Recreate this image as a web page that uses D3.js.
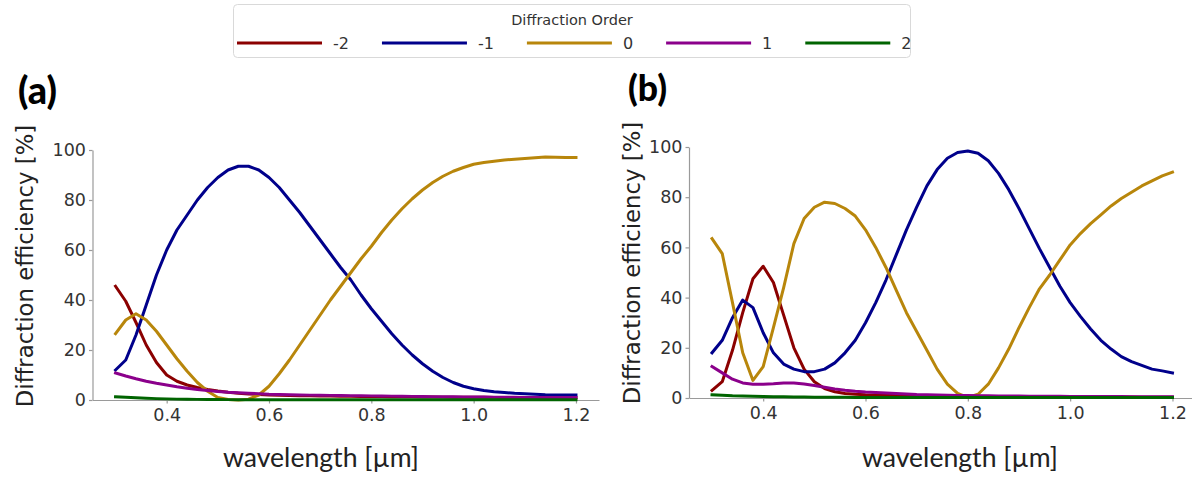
<!DOCTYPE html>
<html>
<head>
<meta charset="utf-8">
<script src="https://cdn.jsdelivr.net/npm/d3@7"></script>
<style>
    html, body { margin: 0; padding: 0; background: #fff; }
    svg { display: block; }
    .axis path, .axis line { stroke: #9a9a9a; stroke-width: 1.2; }
    .axis text { font-family: "DejaVu Sans"; font-size: 17.5px; fill: #333; }
    .y-label { font-family: "DejaVu Sans"; font-size: 22.8px; fill: #222; }
    .x-label { font-family: Lato, "Open Sans"; font-size: 23px; fill: #222; }
    .tag { font-family: Lato, "Open Sans"; font-weight: 900; font-size: 32px; fill: #000; }
    .leg-title { font-family: "DejaVu Sans"; font-size: 14.5px; fill: #333; }
    .leg-text { font-family: "DejaVu Sans"; font-size: 16px; fill: #333; }
</style>
</head>
<body>
<svg id="chart" width="1192" height="477"></svg>
<script>
// wavelength [um]
var wavelength = [0.30, 0.32, 0.34, 0.36, 0.38, 0.40, 0.42, 0.44, 0.46, 0.48,
    0.50, 0.52, 0.54, 0.56, 0.58, 0.60, 0.62, 0.64, 0.66, 0.68,
    0.70, 0.72, 0.74, 0.76, 0.78, 0.80, 0.82, 0.84, 0.86, 0.88,
    0.90, 0.92, 0.94, 0.96, 0.98, 1.00, 1.02, 1.04, 1.06, 1.08,
    1.10, 1.12, 1.14, 1.16, 1.18, 1.20];

var orders = ['-2', '-1', '0', '1', '2'];
var orderColors = ['#8b0000', '#00008b', '#b8860b', '#8b008b', '#006400'];

var xTicks = [0.4, 0.6, 0.8, 1.0, 1.2];
var yTicks = [0, 20, 40, 60, 80, 100];

// panel (a)
var effA_m2 = [45.5, 39.5, 31, 22, 15, 10, 7.5, 6, 5, 4.2,
    3.6, 3.1, 2.7, 2.4, 2.2, 2.0, 1.9, 1.8, 1.7, 1.65,
    1.6, 1.55, 1.5, 1.45, 1.4, 1.4, 1.35, 1.3, 1.3, 1.25,
    1.2, 1.2, 1.15, 1.15, 1.1, 1.1, 1.1, 1.05, 1.05, 1.0,
    1.0, 1.0, 1.0, 0.95, 0.95, 0.9];
var effA_m1 = [12, 16, 26, 38, 50, 60, 68, 74, 80, 85,
    89, 92, 93.5, 93.5, 92, 89, 85, 80, 75, 69.5,
    64, 58.5, 53, 48, 42, 36.5, 31.5, 26.5, 22, 18,
    14.5, 11.5, 9, 7, 5.5, 4.5, 3.8, 3.3, 3, 2.7,
    2.5, 2.3, 2.1, 2, 2, 2];
var effA_0 = [26.5, 32, 34.5, 32, 27.5, 22, 16.5, 11.5, 7, 3.5,
    1, 0.2, 0, 0.3, 2, 5.5, 10.5, 16, 22, 28,
    34, 40, 45.5, 51, 56.5, 61.5, 67, 72, 76.5, 80.5,
    84, 87, 89.5, 91.5, 93, 94.3, 95, 95.5, 96, 96.3,
    96.6, 96.9, 97.2, 97.1, 97, 97];
var effA_p1 = [10.8, 9.6, 8.5, 7.5, 6.7, 6.0, 5.3, 4.7, 4.2, 3.8,
    3.4, 3.1, 2.9, 2.7, 2.5, 2.3, 2.2, 2.1, 2.0, 1.95,
    1.9, 1.85, 1.8, 1.75, 1.7, 1.65, 1.6, 1.55, 1.5, 1.45,
    1.4, 1.35, 1.3, 1.3, 1.25, 1.2, 1.2, 1.15, 1.1, 1.1,
    1.05, 1.05, 1.0, 1.0, 1.0, 1.0];
var effA_p2 = [1.3, 1.1, 0.9, 0.7, 0.55, 0.45, 0.35, 0.3, 0.25, 0.2,
    0.2, 0.15, 0.15, 0.1, 0.1, 0.1, 0.1, 0.1, 0.1, 0.1,
    0.1, 0.1, 0.1, 0.1, 0.1, 0.1, 0.1, 0.1, 0.1, 0.1,
    0.1, 0.1, 0.1, 0.1, 0.1, 0.1, 0.1, 0.1, 0.1, 0.1,
    0.1, 0.1, 0.1, 0.1, 0.1, 0.1];

// panel (b)
var effB_m2 = [3, 6.5, 19, 34, 47.5, 52.5, 46, 33, 20, 11.5,
    6.5, 3.8, 2.5, 1.8, 1.5, 1.3, 1.2, 1.1, 1.0, 0.95,
    0.9, 0.85, 0.8, 0.75, 0.7, 0.7, 0.65, 0.6, 0.6, 0.55,
    0.55, 0.5, 0.5, 0.5, 0.45, 0.45, 0.4, 0.4, 0.4, 0.35,
    0.35, 0.35, 0.3, 0.3, 0.3, 0.3];
var effB_m1 = [18, 23, 32, 39, 36, 26, 18, 13.5, 11.5, 10.5,
    10.5, 11.5, 14, 18, 23, 30, 38, 47, 57, 67,
    76, 84.5, 91, 95.5, 97.8, 98.4, 97.5, 94.5, 89.5, 83,
    75.5, 67.5, 59.5, 52, 44.5, 38, 32.5, 27.5, 23, 19.5,
    16.5, 14.5, 13, 11.5, 10.8, 10];
var effB_0 = [63.5, 57.5, 38, 18, 7, 12.5, 28, 44, 61.5, 71.5,
    76, 78, 77.5, 75.5, 72.5, 67, 60, 52, 43, 34,
    26.5, 19, 11.5, 5.5, 1.8, 0.2, 1.5, 5.5, 12, 19.5,
    28, 36, 43.5, 49, 55, 61, 65.5, 69.5, 73, 76.5,
    79.5, 82, 84.5, 86.5, 88.5, 90];
var effB_p1 = [12.5, 10, 7.5, 6, 5.5, 5.5, 5.7, 6, 6, 5.6,
    5, 4.3, 3.6, 3.1, 2.7, 2.4, 2.2, 2.0, 1.8, 1.6,
    1.4, 1.3, 1.2, 1.1, 1.0, 0.95, 0.9, 0.85, 0.8, 0.8,
    0.75, 0.7, 0.7, 0.65, 0.65, 0.6, 0.6, 0.6, 0.55, 0.55,
    0.55, 0.5, 0.5, 0.5, 0.5, 0.5];
var effB_p2 = [1.3, 1.1, 0.9, 0.8, 0.7, 0.6, 0.5, 0.45, 0.4, 0.35,
    0.3, 0.3, 0.25, 0.25, 0.2, 0.2, 0.2, 0.2, 0.2, 0.2,
    0.2, 0.2, 0.2, 0.2, 0.2, 0.2, 0.2, 0.2, 0.2, 0.2,
    0.2, 0.2, 0.2, 0.2, 0.2, 0.2, 0.2, 0.2, 0.2, 0.2,
    0.2, 0.2, 0.2, 0.2, 0.2, 0.2];

var panels = [
    { tag: '(a)', series: [effA_m2, effA_m1, effA_0, effA_p1, effA_p2],
      left: 92.5, right: 599, top: 150, bottom: 400,
      tagX: 18, tagY: 104, yLabX: 25, yLabY: 266, xLabX: 321 },
    { tag: '(b)', series: [effB_m2, effB_m1, effB_0, effB_p1, effB_p2],
      left: 689, right: 1195.5, top: 147, bottom: 398,
      tagX: 628, tagY: 101, yLabX: 632, yLabY: 263, xLabX: 960 }
];

var svg = d3.select('#chart');

// fit a text node to a given width by scaling its font size
function fitWidth(sel, w) {
    var node = sel.node();
    var fs = parseFloat(getComputedStyle(node).fontSize);
    var len = node.getComputedTextLength();
    if (len > 0) sel.style('font-size', (fs * w / len).toFixed(2) + 'px');
}

panels.forEach(function(p) {
    var x = d3.scaleLinear().domain([0.255, 1.245]).range([p.left, p.right]);
    var y = d3.scaleLinear().domain([0, 100]).range([p.bottom, p.top]);

    svg.append('g')
        .attr('class', 'axis')
        .attr('transform', 'translate(' + p.left + ',0)')
        .call(d3.axisLeft(y).tickValues(yTicks).tickSize(3.5).tickSizeOuter(0).tickPadding(3));

    svg.append('g')
        .attr('class', 'axis')
        .attr('transform', 'translate(0,' + p.bottom + ')')
        .call(d3.axisBottom(x).tickValues(xTicks).tickFormat(d3.format('.1f'))
            .tickSize(3.5).tickSizeOuter(0).tickPadding(5));

    var line = d3.line()
        .x(function(d, i) { return x(wavelength[i]); })
        .y(function(d) { return y(d); });

    svg.append('g')
        .selectAll('path')
        .data(p.series)
        .enter()
        .append('path')
        .attr('d', line)
        .attr('fill', 'none')
        .attr('stroke', function(d, i) { return orderColors[i]; })
        .attr('stroke-width', 3)
        .attr('stroke-linejoin', 'round')
        .attr('stroke-linecap', 'square');

    var tg = svg.append('text')
        .attr('class', 'tag')
        .attr('x', p.tagX)
        .attr('y', p.tagY)
        .text(p.tag);
    fitWidth(tg, 39);

    svg.append('text')
        .attr('class', 'y-label')
        .attr('transform', 'translate(' + p.yLabX + ',' + p.yLabY + ') rotate(-90)')
        .attr('text-anchor', 'middle')
        .attr('dy', '0.35em')
        .text('Diffraction efficiency [%]');

    var xl = svg.append('text')
        .attr('class', 'x-label')
        .attr('x', p.xLabX)
        .attr('y', 467)
        .attr('text-anchor', 'middle')
        .text('wavelength [µm]');
    fitWidth(xl, 196);
});

// legend
var legend = svg.append('g');
legend.append('rect')
    .attr('x', 233.5).attr('y', 4.5)
    .attr('width', 677).attr('height', 53)
    .attr('rx', 4)
    .attr('fill', '#fff')
    .attr('stroke', '#d9d9d9');

legend.append('text')
    .attr('class', 'leg-title')
    .attr('x', 572)
    .attr('y', 25)
    .attr('text-anchor', 'middle')
    .text('Diffraction Order');

var lx = 237;
orders.forEach(function(o, i) {
    legend.append('line')
        .attr('x1', lx).attr('x2', lx + 85)
        .attr('y1', 43).attr('y2', 43)
        .attr('stroke', orderColors[i])
        .attr('stroke-width', 3);
    var t = legend.append('text')
        .attr('class', 'leg-text')
        .attr('x', lx + 96)
        .attr('y', 49)
        .text(o);
    lx = lx + 96 + t.node().getComputedTextLength() + 33;
});
</script>
</body>
</html>
